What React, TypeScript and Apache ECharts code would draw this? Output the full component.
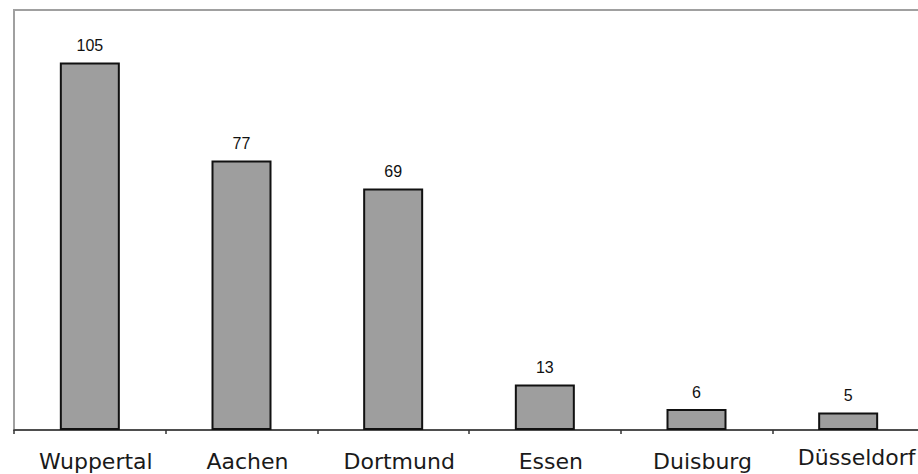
import React, { useEffect, useRef } from "react";
import * as echarts from "echarts";

const categories = ["Wuppertal", "Aachen", "Dortmund", "Essen", "Duisburg", "Düsseldorf"];
const values = [105, 77, 69, 13, 6, 5];
const yMax = 120;

export default function App() {
  const ref = useRef<HTMLDivElement>(null);
  useEffect(() => {
    if (!ref.current) return;
    const chart = echarts.init(ref.current, null, { renderer: "svg" });
    const catData = categories.map((c, i) =>
      i === categories.length - 1
        ? { value: c, textStyle: { padding: [0, 0, 0, 17] } }
        : { value: c }
    );
    chart.setOption({
      animation: false,
      backgroundColor: "#ffffff",
      grid: {
        left: 14,
        top: 10,
        width: 910,
        height: 420,
        show: true,
        borderColor: "#a0a0a0",
        borderWidth: 2,
        backgroundColor: "transparent",
      },
      xAxis: {
        type: "category",
        data: catData,
        boundaryGap: true,
        axisLine: { show: true, lineStyle: { color: "#333333", width: 1.5 } },
        axisTick: { show: true, interval: 0, length: 4, lineStyle: { color: "#333333", width: 1.5 } },
        axisLabel: {
          interval: 0,
          margin: 16,
          padding: [4, 0, 0, 12],
          color: "#1a1a1a",
          fontFamily: "DejaVu Sans",
          fontSize: 22,
        },
      },
      yAxis: {
        type: "value",
        min: 0,
        max: yMax,
        show: false,
        splitLine: { show: false },
      },
      series: [
        {
          type: "bar",
          data: values,
          barWidth: 60,
          itemStyle: { color: "#9e9e9e", borderColor: "#111111", borderWidth: 2 },
          label: {
            show: true,
            position: "top",
            distance: 9,
            color: "#111111",
            fontFamily: "Liberation Sans",
            fontSize: 16,
          },
        },
      ],
    });
    return () => chart.dispose();
  }, []);
  return (
    <div style={{ position: "fixed", left: 0, top: 0, width: 918, height: 474, overflow: "hidden" }}>
      <div ref={ref} style={{ width: 940, height: 474 }} />
    </div>
  );
}
